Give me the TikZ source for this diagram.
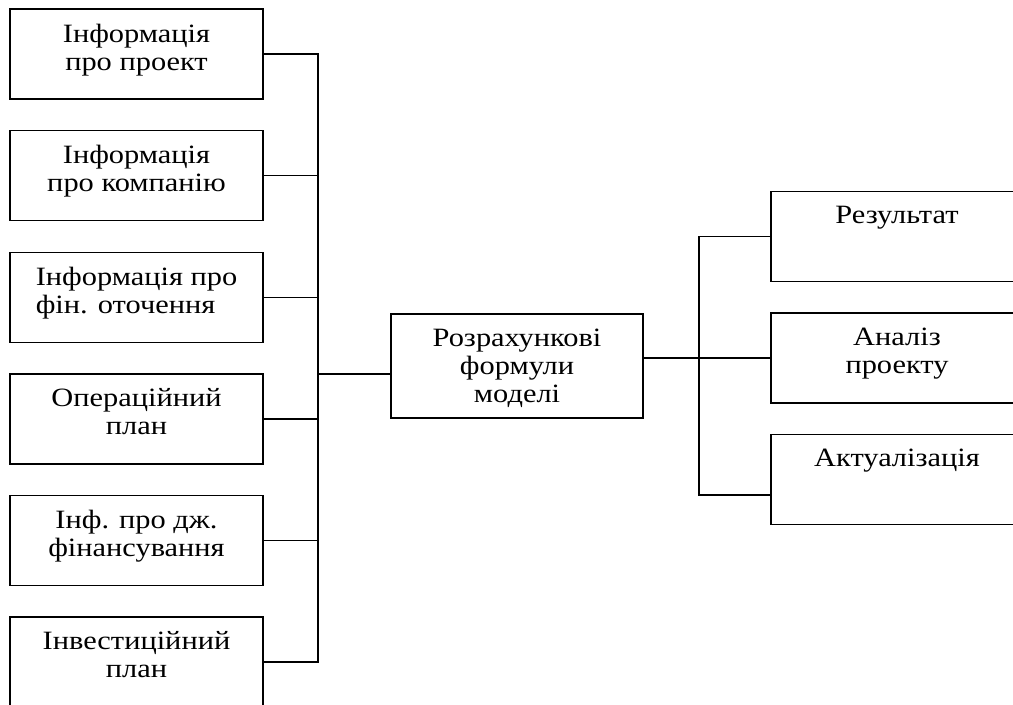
\documentclass[tikz,border=0pt]{standalone}
\usepackage{fontspec}
\setmainfont{Liberation Serif}
\usetikzlibrary{positioning}
\begin{document}
\begin{tikzpicture}[line width=1pt,
  blk/.style={rectangle, draw, minimum width=6.325cm, minimum height=2.25cm, inner sep=0pt},
  txt/.style={align=center, inner sep=0pt, xscale=1.15, transform shape,
    font=\fontsize{18.8}{19.9}\selectfont}]
\useasboundingbox (0,0) rectangle (25.325,-17.6);
\clip (0,0) rectangle (25.325,-17.6);
% left column
\node[blk] (proj) at (3.4125,-1.35) {};
\node[txt, below=0.37cm of proj.north] (proj-t) {Інформація\\про проект};
\node[blk] (comp) at (3.4125,-4.39) {};
\node[txt, below=0.37cm of comp.north] (comp-t) {Інформація\\про компанію};
\node[blk] (env) at (3.4125,-7.43) {};
\node[txt, align=left, below=0.37cm of env.north] (env-t) {Інформація про\\фін. оточення};
\node[blk] (oper) at (3.4125,-10.47) {};
\node[txt, below=0.37cm of oper.north] (oper-t) {Операційний\\план};
\node[blk] (fin) at (3.4125,-13.51) {};
\node[txt, below=0.37cm of fin.north] (fin-t) {Інф. про дж.\\фінансування};
\node[blk] (inv) at (3.4125,-16.55) {};
\node[txt, below=0.37cm of inv.north] (inv-t) {Інвестиційний\\план};
% middle
\node[blk, minimum width=6.3cm, minimum height=2.6cm] (formulas) at (12.925,-9.15) {};
\node[txt, below=0.37cm of formulas.north] (formulas-t) {Розрахункові\\формули\\моделі};
% right column
\node[blk, minimum width=6.3cm] (res) at (22.425,-5.9125) {};
\node[txt, below=0.37cm of res.north] (res-t) {Результат};
\node[blk, minimum width=6.3cm] (anal) at (22.425,-8.95) {};
\node[txt, below=0.37cm of anal.north] (anal-t) {Аналіз\\проекту};
\node[blk, minimum width=6.3cm] (upd) at (22.425,-11.99) {};
\node[txt, below=0.37cm of upd.north] (upd-t) {Актуалізація};
% left bus
\coordinate (lbus) at (7.95,-16.55);
\coordinate (lin) at (7.95,-9.35);
\draw (proj.east) -| (lbus) -- (inv.east);
\draw (comp.east) -- (comp.east -| lbus);
\draw (env.east) -- (env.east -| lbus);
\draw (oper.east) -- (oper.east -| lbus);
\draw (fin.east) -- (fin.east -| lbus);
\draw (lin) -- (lin -| formulas.west);
% right bus
\coordinate (rout) at (16.075,-8.95);
\coordinate (rbus) at (17.475,-12.375);
\draw (rout) -- (anal.west);
\draw (res.west) -| (rbus) -- (rbus -| upd.west);
\end{tikzpicture}
\end{document}
